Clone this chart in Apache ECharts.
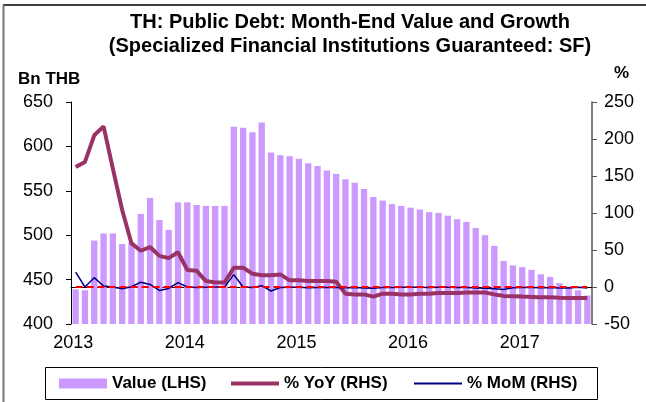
<!DOCTYPE html>
<html>
<head>
    <meta charset="UTF-8">
    <title>TH: Public Debt SF</title>
    <script src="https://cdn.jsdelivr.net/npm/echarts@6/dist/echarts.min.js"></script>
    <style>
        body { margin: 0; background: #fff; }
        #main { width: 646px; height: 402px; }
    </style>
</head>
<body>
    <div id="main"></div>
    <script>
        // months Jan 2013 - Aug 2017
        var months = [];
        for (var y = 2013; y <= 2017; y++) {
            for (var m = 1; m <= 12; m++) {
                if (y === 2017 && m > 8) break;
                months.push(y + '-' + (m < 10 ? '0' + m : m));
            }
        }

        // Bn THB
        var valueLHS = [
            439, 438, 494, 502, 502, 490, 492, 524, 542, 517, 506, 537,
            537, 534, 533, 533, 533, 622, 621, 616, 627, 593, 590, 589,
            586, 581, 578, 573, 569, 563, 559, 552, 543, 539, 535, 533,
            531, 529, 526, 525, 522, 518, 515, 508, 500, 488, 471, 466,
            464, 461, 456, 453, 446, 441, 438, 432
        ];
        // %
        var yoyRHS = [
            162, 169, 205, 217, 160, 104, 59, 49, 54, 42, 39, 47,
            23, 22, 8, 6, 6, 26, 26, 18, 16, 16, 17, 9,
            9, 8, 8, 8, 7, -9, -10, -10, -13, -9, -9, -10,
            -10, -9, -9, -8, -8, -8, -7.5, -7.5, -7.5, -10, -12, -12.5,
            -13, -13.4, -13.8, -14, -14.5, -14.7, -15, -15
        ];
        var momRHS = [
            20, 0, 12.6, 1.4, 0, -2.5, 0.3, 6.5, 3.5, -4.7, -2, 6,
            0, -0.6, -0.3, 0, 0, 16.7, -0.1, -0.8, 1.8, -5.4, -0.6, -0.3,
            -0.4, -0.9, -0.6, -0.7, -0.8, -1.1, -0.6, -1.3, -1.6, -0.7, -0.7, -0.5,
            -0.2, -0.4, -0.6, -0.2, -0.5, -0.7, -0.6, -1.4, -1.6, -2.5, -3.5, -1,
            -0.6, -0.7, -1, -0.7, -1.3, -1.2, -0.4, -1.4
        ];

        var font = 'Liberation Sans, Arial, sans-serif';
        var chart = echarts.init(document.getElementById('main'));

        function legendAt(left, name, icon) {
            return {
                left: left,
                top: 375,
                padding: 0,
                itemWidth: 48,
                itemHeight: 10,
                itemGap: 5,
                textStyle: { fontFamily: font, fontSize: 17, fontWeight: 'bold', color: '#000' },
                data: [{ name: name, icon: icon }]
            };
        }

        var option = {
            animation: false,
            backgroundColor: '#fff',
            textStyle: { fontFamily: font, color: '#000' },
            title: {
                text: 'TH: Public Debt: Month-End Value and Growth\n(Specialized Financial Institutions Guaranteed: SF)',
                left: 345,
                top: 5,
                textAlign: 'center',
                textStyle: { fontFamily: font, fontSize: 20, fontWeight: 'bold', color: '#000', lineHeight: 24 }
            },
            graphic: [
                { type: 'text', left: 18, top: 71, style: { text: 'Bn THB', font: 'bold 17px ' + font, fill: '#000' } },
                { type: 'text', left: 614, top: 65, style: { text: '%', font: 'bold 17px ' + font, fill: '#000' } },
                { type: 'line', shape: { x1: 3, y1: 5, x2: 646, y2: 5 }, style: { stroke: '#000', lineWidth: 1.5 } },
                { type: 'line', shape: { x1: 3.5, y1: 5, x2: 3.5, y2: 402 }, style: { stroke: '#777', lineWidth: 2 } },
                { type: 'rect', shape: { x: 45.5, y: 367.5, width: 552, height: 32 }, style: { fill: 'none', stroke: '#000', lineWidth: 1 } }
            ],
            legend: [
                legendAt(59, 'Value (LHS)', 'rect'),
                legendAt(231, '% YoY (RHS)', 'path://M0,0H48V4H0Z'),
                legendAt(414, '% MoM (RHS)', 'path://M0,0H48V2H0Z')
            ],
            grid: { left: 71, right: 54, top: 102, bottom: 78 },
            xAxis: {
                type: 'category',
                data: months,
                boundaryGap: true,
                axisLine: { lineStyle: { color: '#000', width: 1 } },
                axisTick: { interval: 11, length: 5, inside: false, lineStyle: { color: '#000' } },
                axisLabel: {
                    interval: 11,
                    margin: 10,
                    fontSize: 18,
                    color: '#000',
                    fontFamily: font,
                    padding: [0, 5, 0, 0],
                    formatter: function (v) { return v.slice(0, 4); }
                },
                splitLine: { show: false }
            },
            yAxis: [
                {
                    type: 'value',
                    min: 400, max: 650, interval: 50,
                    axisLine: { show: true, lineStyle: { color: '#000' } },
                    axisTick: { show: true, length: 5, lineStyle: { color: '#000' } },
                    axisLabel: { margin: 18, fontSize: 18, color: '#000', fontFamily: font },
                    splitLine: { show: false }
                },
                {
                    type: 'value',
                    min: -50, max: 250, interval: 50,
                    axisLine: { show: true, lineStyle: { color: '#555', width: 1.5 } },
                    axisTick: { show: true, length: 5, lineStyle: { color: '#555' } },
                    axisLabel: { margin: 12, fontSize: 18, color: '#000', fontFamily: font },
                    splitLine: { show: false }
                }
            ],
            series: [
                {
                    name: 'Value (LHS)',
                    type: 'bar',
                    yAxisIndex: 0,
                    data: valueLHS,
                    barCategoryGap: '32%',
                    itemStyle: { color: '#cc99ff' }
                },
                {
                    name: '% YoY (RHS)',
                    type: 'line',
                    yAxisIndex: 1,
                    data: yoyRHS,
                    symbol: 'none',
                    lineStyle: { color: '#993366', width: 4 },
                    itemStyle: { color: '#993366' }
                },
                {
                    name: '% MoM (RHS)',
                    type: 'line',
                    yAxisIndex: 1,
                    data: momRHS,
                    symbol: 'none',
                    lineStyle: { color: '#000080', width: 1.5 },
                    itemStyle: { color: '#000080' },
                    markLine: {
                        silent: true,
                        symbol: 'none',
                        label: { show: false },
                        lineStyle: { color: '#ff0000', type: [7, 4], width: 2 },
                        data: [[{ coord: [0, 0] }, { coord: [months.length - 1, 0] }]]
                    }
                }
            ]
        };

        chart.setOption(option);
    </script>
</body>
</html>
